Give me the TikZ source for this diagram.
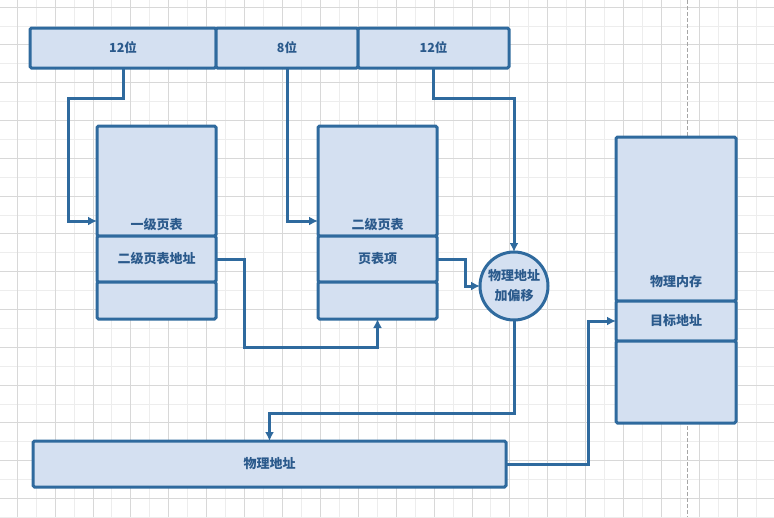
\documentclass[tikz,border=0pt]{standalone}
\usepackage{fontspec}
\setmainfont{Noto Sans CJK SC}
\usetikzlibrary{arrows.meta,positioning,calc}
\definecolor{lineblue}{HTML}{2F6A9E}
\definecolor{cellfill}{HTML}{D4E0F1}
\definecolor{inkblue}{HTML}{2B5A8C}
\definecolor{gridmajor}{HTML}{D8D8D8}
\definecolor{gridminor}{HTML}{EDEDED}
\tikzset{
  >={Latex[length=9pt,width=9pt]},
  every node/.style={font=\fontsize{13}{15}\selectfont\bfseries,text=inkblue},
  cell/.style={draw=lineblue,line width=3pt,fill=cellfill,rounded corners=1.5pt,inner sep=0pt,outer sep=0pt,minimum width=119pt},
  bitcell/.style={cell,minimum height=40pt,font=\fontsize{12.5}{15}\selectfont\bfseries},
  toplabel/.style={inner sep=0pt},
  link/.style={->,line width=3pt,draw=lineblue}
}
\begin{document}
\begin{tikzpicture}[x=1pt,y=-1pt]
  \useasboundingbox (0,0) rectangle (774,517);
  \fill[white] (0,0) rectangle (774,517);
  % canvas grid
  \foreach \k in {-1,...,20} \draw[gridminor,line width=0.8pt] (36.05+37.9*\k,0) -- (36.05+37.9*\k,517);
  \foreach \k in {0,...,13} \draw[gridminor,line width=0.8pt] (0,25.9+37.8*\k) -- (774,25.9+37.8*\k);
  \foreach \k in {0,...,20} \draw[gridmajor,line width=0.8pt] (17.1+37.9*\k,0) -- (17.1+37.9*\k,517);
  \foreach \k in {0,...,13} \draw[gridmajor,line width=0.8pt] (0,7+37.8*\k) -- (774,7+37.8*\k);
  \draw[gray!70,line width=0.8pt,dash pattern=on 4pt off 2pt] (687,0) -- (687,517);

  % virtual address bits
  \node[bitcell,minimum width=186pt,anchor=north west] (b1) at (30,28) {12位};
  \node[bitcell,minimum width=142pt,right=0pt of b1] (b2) {8位};
  \node[bitcell,minimum width=151pt,right=0pt of b2] (b3) {12位};

  % first level table
  \node[cell,minimum height=110pt,anchor=north west] (t1a) at (97,126) {};
  \node[cell,minimum height=46pt,below=0pt of t1a] (t1b) {二级页表地址};
  \node[cell,minimum height=37pt,below=0pt of t1b] (t1c) {};
  \node[toplabel,above=5pt of t1a.south] (t1lbl) {一级页表};

  % second level table
  \node[cell,minimum height=110pt,anchor=north west] (t2a) at (318,126) {};
  \node[cell,minimum height=46pt,below=0pt of t2a] (t2b) {页表项};
  \node[cell,minimum height=37pt,below=0pt of t2b] (t2c) {};
  \node[toplabel,above=5pt of t2a.south] (t2lbl) {二级页表};

  % adder
  \node[cell,circle,minimum width=68pt,minimum height=68pt,align=center,font=\fontsize{13}{20}\selectfont\bfseries] (addr) at (514,286) {物理地址\\加偏移};

  % physical memory
  \node[cell,minimum width=120pt,minimum height=164pt,anchor=north west] (m1) at (616,137) {};
  \node[cell,minimum width=120pt,minimum height=40pt,below=0pt of m1] (m2) {目标地址};
  \node[cell,minimum width=120pt,minimum height=82pt,below=0pt of m2] (m3) {};
  \node[toplabel,above=13pt of m1.south] (m1lbl) {物理内存};

  % physical address
  \node[cell,minimum width=473pt,minimum height=46pt,anchor=north west] (pa) at (33,441) {物理地址};

  % connectors
  \draw[link] (b1.south) -- ++(0,30) -| ([xshift=-29pt,yshift=15pt]t1a.south west) -- ([yshift=15pt]t1a.south west);
  \draw[link] (b2.south) |- ([yshift=15pt]t2a.south west);
  \draw[link] (b3.south) -- ++(0,30) -| (addr.north);
  \draw[link] (t1b.east) -- ++(28,0) |- ([yshift=-28pt]t2c.south) -- (t2c.south);
  \draw[link] (t2b.east) -- ++(28,0) |- (addr.west);
  \draw[link] (addr.south) -- ++(0,93) -| (pa.north);
  \draw[link] (pa.east) -- ++(82,0) |- (m2.west);
\end{tikzpicture}
\end{document}
